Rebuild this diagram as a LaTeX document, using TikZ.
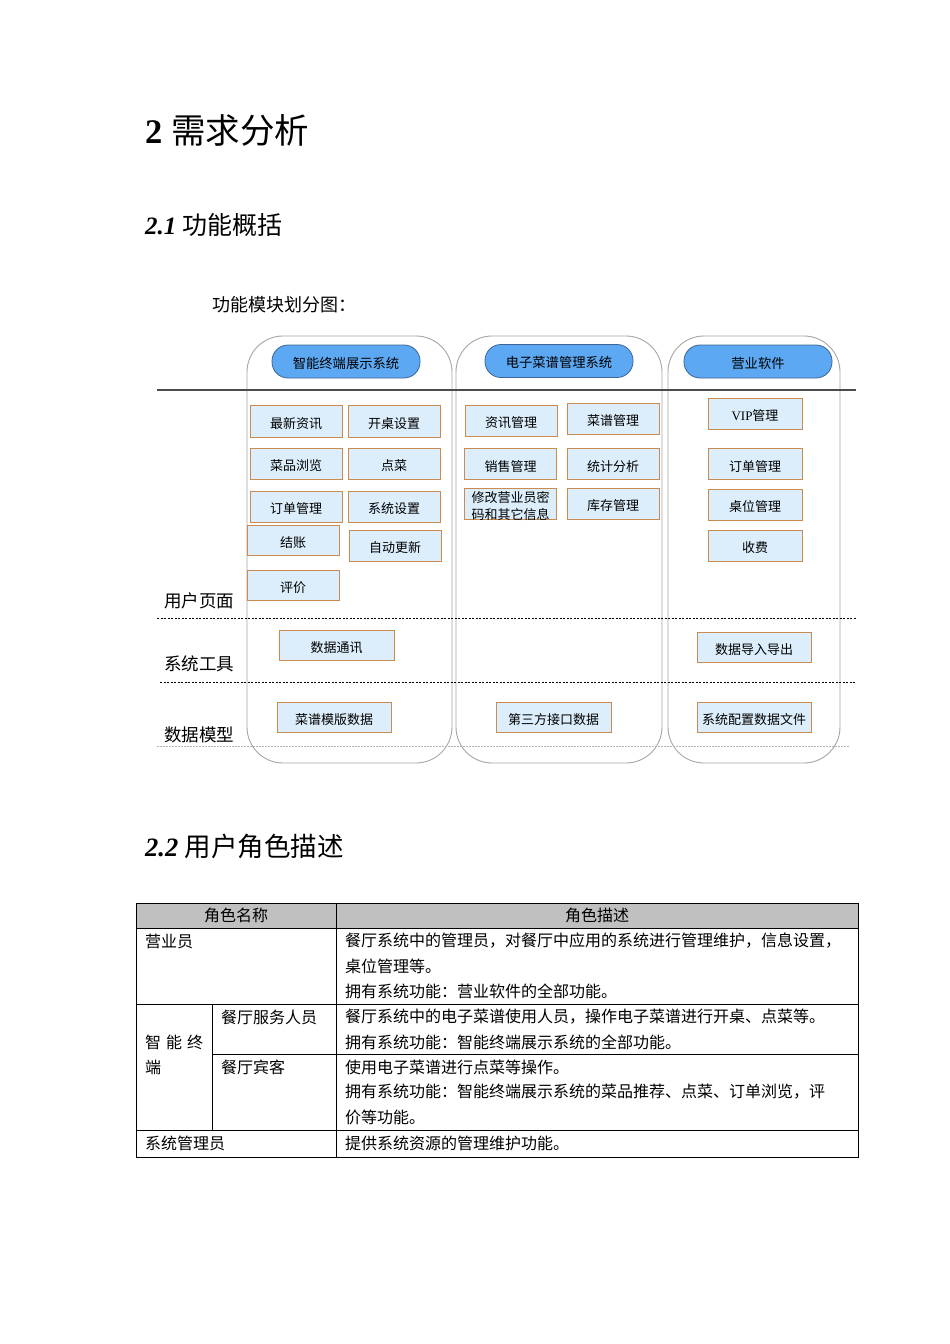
\documentclass[tikz,border=0pt]{standalone}
\usepackage{fontspec}
\setmainfont{Liberation Serif}
\newfontfamily\cjk{Noto Sans CJK SC}
\definecolor{pillblue}{RGB}{92,168,242}
\definecolor{pilledge}{RGB}{60,100,150}
\definecolor{boxfill}{RGB}{220,238,251}
\definecolor{boxedge}{RGB}{201,139,78}
\definecolor{hdrgray}{RGB}{192,192,192}
\tikzset{
  colframe/.style={draw=gray!70, line width=0.9pt, rounded corners=36pt},
  pill/.style={draw=pilledge, fill=pillblue, line width=0.8pt, rounded corners=16pt,
    minimum width=148pt, minimum height=33pt, inner sep=0pt, text height=13pt, text depth=0pt,
    font=\cjk\fontsize{13.3}{15}\selectfont},
  fnbox/.style={draw=boxedge, fill=boxfill, line width=1pt, minimum width=92pt,
    minimum height=31pt, inner sep=0pt, text height=14pt, text depth=0pt,
    font=\cjk\fontsize{13}{16}\selectfont},
  widebox/.style={fnbox, minimum width=115pt, minimum height=29.5pt},
  layerlabel/.style={anchor=west, inner sep=0pt, font=\cjk\fontsize{17.5}{20}\selectfont},
  cell/.style={anchor=west, inner sep=0pt, font=\cjk\fontsize{16}{18}\selectfont},
  hdr/.style={inner sep=0pt, font=\cjk\fontsize{16}{18}\selectfont},
  tline/.style={draw=black, line width=0.8pt},
}
\begin{document}
\begin{tikzpicture}[x=1pt,y=-1pt]
\fill[white] (0,0) rectangle (950,1344);
\useasboundingbox (0,0) rectangle (950,1344);

% headings
\node[anchor=west, inner sep=0pt, font=\fontsize{34.5}{40}\selectfont] (h2) at (145,130) {\textbf{2} {\cjk 需求分析}};
\node[anchor=west, inner sep=0pt, font=\fontsize{25}{30}\selectfont] (h21) at (145,225) {\textbf{\textit{2.1}} {\cjk 功能概括}};
\node[anchor=west, inner sep=0pt, font=\cjk\fontsize{18}{22}\selectfont] (cap) at (212,305) {功能模块划分图：};
\node[anchor=west, inner sep=0pt, font=\fontsize{26.5}{30}\selectfont] (h22) at (145,846) {\textbf{\textit{2.2}} {\cjk 用户角色描述}};

% column frames
\draw[colframe] (247,336) rectangle (452,763);
\draw[colframe] (456,336) rectangle (662,763);
\draw[colframe] (668,336) rectangle (840,763);

% layer lines
\draw[draw=black!70, line width=1.2pt] (157,390) -- (856,390);
\draw[black, line width=0.8pt, dash pattern=on 2pt off 1.5pt] (157,618) -- (856,618);
\draw[black, line width=0.8pt, dash pattern=on 2pt off 1.5pt] (160,682) -- (856,682);
\draw[gray!60, line width=0.8pt, dash pattern=on 2pt off 1pt] (157,746) -- (850,746);

% layer labels
\node[layerlabel] (lu) at (164,601) {用户页面};
\node[layerlabel] (lt) at (164,664) {系统工具};
\node[layerlabel] (ld) at (164,735) {数据模型};

% pills
\node[pill] (p1) at (346,361.5) {智能终端展示系统};
\node[pill] (p2) at (559,361) {电子菜谱管理系统};
\node[pill, text height=14.5pt] (p3) at (758,361.5) {营业软件};

% column 1
\node[fnbox, minimum height=32pt] (a1) at (296,421) {最新资讯};
\node[fnbox, minimum height=32pt] (a2) at (394,421) {开桌设置};
\node[fnbox] (a3) at (296,463.5) {菜品浏览};
\node[fnbox] (a4) at (394,463.5) {点菜};
\node[fnbox] (a5) at (296,506.5) {订单管理};
\node[fnbox] (a6) at (394,506.5) {系统设置};
\node[fnbox, minimum height=30pt] (a7) at (293,540) {结账};
\node[fnbox] (a8) at (395,545.5) {自动更新};
\node[fnbox, minimum height=30pt] (a9) at (293,585) {评价};
\node[widebox, minimum height=30pt] (a10) at (336.5,645) {数据通讯};
\node[widebox, minimum width=114pt] (a11) at (334,717.5) {菜谱模版数据};

% column 2
\node[fnbox] (b1) at (511,420.5) {资讯管理};
\node[fnbox] (b2) at (613,418.5) {菜谱管理};
\node[fnbox] (b3) at (510.5,464) {销售管理};
\node[fnbox] (b4) at (613,464) {统计分析};
\node[fnbox, text height=31pt, text depth=0pt] (b5) at (510.5,503.5) {\begin{tabular}[b]{@{}c@{}}修改营业员密\\[1pt]码和其它信息\end{tabular}};
\node[fnbox] (b6) at (613,503.5) {库存管理};
\node[widebox] (b7) at (553.5,717.5) {第三方接口数据};

% column 3
\node[fnbox, minimum width=94pt] (c1) at (755,413.5) {{\rmfamily VIP}管理};
\node[fnbox, minimum width=94pt] (c2) at (755,464) {订单管理};
\node[fnbox, minimum width=94pt] (c3) at (755,504.5) {桌位管理};
\node[fnbox, minimum width=94pt] (c4) at (755,545.5) {收费};
\node[widebox, minimum width=114pt] (c5) at (754,647.5) {数据导入导出};
\node[widebox, minimum width=114pt] (c6) at (754,717.5) {系统配置数据文件};

% table
\fill[hdrgray] (136,903) rectangle (858,928);
\draw[tline] (136,903) rectangle (858,1157);
\draw[tline] (136,928) -- (858,928);
\draw[tline] (136,1004) -- (858,1004);
\draw[tline] (136,1130) -- (858,1130);
\draw[tline] (212,1054) -- (858,1054);
\draw[tline] (336,903) -- (336,1157);
\draw[tline] (212,1004) -- (212,1130);

\node[hdr] (t0a) at (236,915.5) {角色名称};
\node[hdr] (t0b) at (597,915.5) {角色描述};

\node[cell] (r1a) at (145,941) {营业员};
\node[cell] (r1b) at (345,941) {餐厅系统中的管理员，对餐厅中应用的系统进行管理维护，信息设置，};
\node[cell] (r1c) at (345,966) {桌位管理等。};
\node[cell] (r1d) at (345,991) {拥有系统功能：营业软件的全部功能。};

\node[cell] (r2a) at (145,1042) {智\hspace{5pt}能\hspace{5pt}终};
\node[cell] (r2b) at (145,1067) {端};
\node[cell] (r2c) at (221,1017) {餐厅服务人员};
\node[cell] (r2d) at (345,1017) {餐厅系统中的电子菜谱使用人员，操作电子菜谱进行开桌、点菜等。};
\node[cell] (r2e) at (345,1042) {拥有系统功能：智能终端展示系统的全部功能。};
\node[cell] (r3a) at (221,1067) {餐厅宾客};
\node[cell] (r3b) at (345,1067) {使用电子菜谱进行点菜等操作。};
\node[cell] (r3c) at (345,1092) {拥有系统功能：智能终端展示系统的菜品推荐、点菜、订单浏览，评};
\node[cell] (r3d) at (345,1117) {价等功能。};

\node[cell] (r4a) at (145,1143) {系统管理员};
\node[cell] (r4b) at (345,1143) {提供系统资源的管理维护功能。};
\end{tikzpicture}
\end{document}
